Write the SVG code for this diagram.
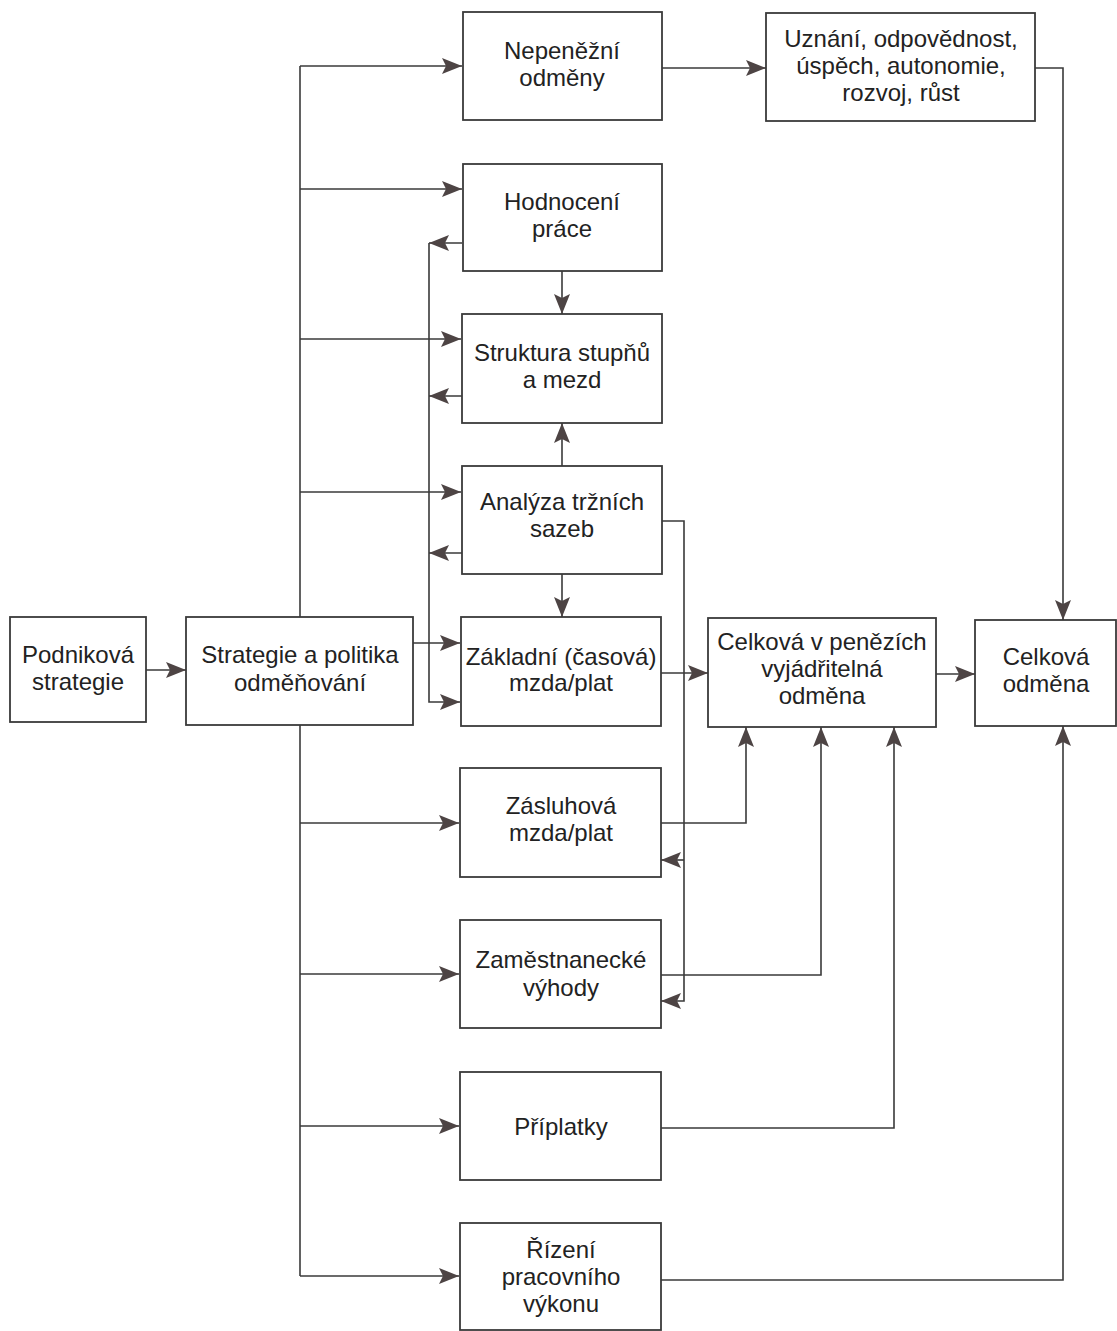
<svg xmlns="http://www.w3.org/2000/svg" width="1117" height="1331" viewBox="0 0 1117 1331">
<style>
.box{fill:#fff;stroke:#3a3a3a;stroke-width:1.8}
.t{font-family:"Liberation Sans",Arial,sans-serif;font-size:24px;fill:#222;text-anchor:middle}
.c{fill:none;stroke:#3a3a3a;stroke-width:1.6}
.a{marker-end:url(#arr)}
</style>
<defs>
<marker id="arr" viewBox="0 0 20 16" refX="20" refY="8" markerWidth="20" markerHeight="16" markerUnits="userSpaceOnUse" orient="auto">
<path d="M0,0 L20,8 L0,16 L4,8 z" fill="#4d4444"/>
</marker>
</defs>
<rect width="1117" height="1331" fill="#fff"/>
<g id="connectors">
<path class="c" d="M300,66 V1276"/>
<path class="c a" d="M300,66 H462"/>
<path class="c a" d="M300,189 H462"/>
<path class="c a" d="M300,339 H461"/>
<path class="c a" d="M300,492 H461"/>
<path class="c a" d="M300,823 H459"/>
<path class="c a" d="M300,974 H459"/>
<path class="c a" d="M300,1126 H459"/>
<path class="c a" d="M300,1276 H459"/>
<path class="c a" d="M146,670 H186"/>
<path class="c a" d="M413,643 H460"/>
<path class="c a" d="M462,243 H429"/>
<path class="c a" d="M462,396 H429"/>
<path class="c a" d="M462,553 H429"/>
<path class="c a" d="M429,243 V702 H460"/>
<path class="c a" d="M562,271 V314"/>
<path class="c a" d="M562,466 V423"/>
<path class="c a" d="M562,574 V617"/>
<path class="c a" d="M662,521 H684 V1001 H661"/>
<path class="c a" d="M684,860 H661"/>
<path class="c a" d="M661,673 H708"/>
<path class="c a" d="M936,674 H975"/>
<path class="c a" d="M662,68 H766"/>
<path class="c a" d="M1035,68 H1063 V620"/>
<path class="c a" d="M661,823 H746 V727"/>
<path class="c a" d="M661,975 H821 V727"/>
<path class="c a" d="M661,1128 H894 V727"/>
<path class="c a" d="M661,1280 H1063 V726"/>
</g>
<g id="podnikova"><rect class="box" x="10" y="617" width="136" height="105"/><text class="t" x="78" y="663">Podniková</text><text class="t" x="78" y="690">strategie</text></g>
<g id="strategie"><rect class="box" x="186" y="617" width="227" height="108"/><text class="t" x="300" y="663">Strategie a politika</text><text class="t" x="300" y="691">odměňování</text></g>
<g id="nepenezni"><rect class="box" x="463" y="12" width="199" height="108"/><text class="t" x="562" y="59">Nepeněžní</text><text class="t" x="562" y="86">odměny</text></g>
<g id="uznani"><rect class="box" x="766" y="13" width="269" height="108"/><text class="t" x="901" y="47">Uznání, odpovědnost,</text><text class="t" x="901" y="74">úspěch, autonomie,</text><text class="t" x="901" y="101">rozvoj, růst</text></g>
<g id="hodnoceni"><rect class="box" x="463" y="164" width="199" height="107"/><text class="t" x="562" y="210">Hodnocení</text><text class="t" x="562" y="237">práce</text></g>
<g id="struktura"><rect class="box" x="462" y="314" width="200" height="109"/><text class="t" x="562" y="361">Struktura stupňů</text><text class="t" x="562" y="388">a mezd</text></g>
<g id="analyza"><rect class="box" x="462" y="466" width="200" height="108"/><text class="t" x="562" y="510">Analýza tržních</text><text class="t" x="562" y="537">sazeb</text></g>
<g id="zakladni"><rect class="box" x="461" y="617" width="200" height="109"/><text class="t" x="561" y="665">Základní (časová)</text><text class="t" x="561" y="691">mzda/plat</text></g>
<g id="celkova-penize"><rect class="box" x="708" y="618" width="228" height="109"/><text class="t" x="822" y="650">Celková v penězích</text><text class="t" x="822" y="677">vyjádřitelná</text><text class="t" x="822" y="704">odměna</text></g>
<g id="celkova"><rect class="box" x="975" y="620" width="141" height="106"/><text class="t" x="1046" y="665">Celková</text><text class="t" x="1046" y="692">odměna</text></g>
<g id="zasluhova"><rect class="box" x="460" y="768" width="201" height="109"/><text class="t" x="561" y="814">Zásluhová</text><text class="t" x="561" y="841">mzda/plat</text></g>
<g id="zamestnanecke"><rect class="box" x="460" y="920" width="201" height="108"/><text class="t" x="561" y="968">Zaměstnanecké</text><text class="t" x="561" y="996">výhody</text></g>
<g id="priplatky"><rect class="box" x="460" y="1072" width="201" height="108"/><text class="t" x="561" y="1135">Příplatky</text></g>
<g id="rizeni"><rect class="box" x="460" y="1223" width="201" height="107"/><text class="t" x="561" y="1258">Řízení</text><text class="t" x="561" y="1285">pracovního</text><text class="t" x="561" y="1312">výkonu</text></g>
</svg>
